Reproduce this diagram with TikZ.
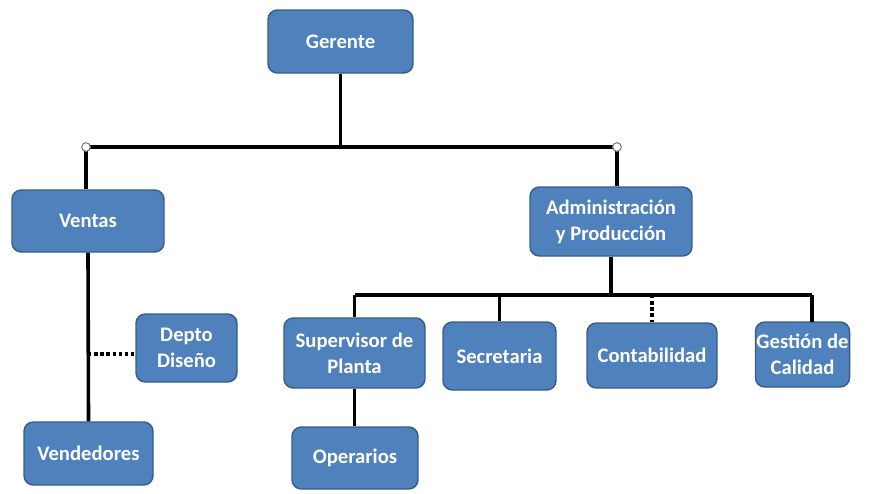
\documentclass[tikz,border=0pt]{standalone}
\usepackage{fontspec}
\setmainfont{Carlito}
\usepackage{tikz}
\usetikzlibrary{positioning}

\tikzset{
  unidad/.style={draw={rgb,255:red,56;green,93;blue,138}, line width=1.1pt,
    fill={rgb,255:red,79;green,129;blue,189}, rounded corners=7pt,
    text=white, font=\fontsize{15.5}{19.5}\selectfont\bfseries,
    align=center, inner sep=0.75pt},
  enlace/.style={line width=2.7pt, color=black},
  punteado/.style={line width=2.7pt, color=black, dash pattern=on 2.6pt off 2pt},
  nudo/.style={circle, draw={rgb,255:red,120;green,130;blue,150}, fill=white,
    line width=0.8pt, minimum size=6.5pt, inner sep=0pt}
}

\begin{document}
\begin{tikzpicture}[x=0.75pt,y=0.75pt,yscale=-1,xscale=1]
\useasboundingbox (0,0) rectangle (877,493);

% Boxes
\node [unidad, minimum width=108.75pt, minimum height=47.25pt] (gerente) at (340.5,41.5) {Gerente};
\node [unidad, minimum width=114pt, minimum height=46.5pt] (ventas) at (88,221) {Ventas};
\node [unidad, minimum width=121.5pt, minimum height=51.75pt] (admin) at (611,221.5) {Administración\\y Producción};
\node [unidad, minimum width=75.75pt, minimum height=51pt] (depto) at (186.5,348) {Depto\\Diseño};
\node [unidad, minimum width=96.75pt, minimum height=47.25pt] (vendedores) at (88.5,453.5) {Vendedores};
\node [unidad, minimum width=105.75pt, minimum height=52.5pt] (supervisor) at (354.5,353) {Supervisor de\\Planta};
\node [unidad, minimum width=84.75pt, minimum height=51pt] (secretaria) at (499.5,356) {Secretaria};
\node [unidad, minimum width=97.5pt, minimum height=48.75pt] (contabilidad) at (652,355.5) {Contabilidad};
\node [unidad, minimum width=68.25pt, minimum height=48.75pt] (gestion) at (802.5,354.5) {Gestión de\\Calidad};
\node [unidad, minimum width=94.5pt, minimum height=46.5pt] (operarios) at (355,458) {Operarios};

% Bus points
\coordinate (busL) at (86,147);
\coordinate (busR) at (617,147);
\coordinate (busA) at (612,295);
\coordinate (pieGestion) at (812,322);
\coordinate (ladoDepto) at (depto.west |- 0,354);

% Connectors
\draw [enlace] (gerente.south) -- (gerente.south |- busL);
\draw [enlace] (busL) -- (busR);
\draw [enlace] (busL) -- (busL |- ventas.north);
\draw [enlace] (busR) -- (busR |- admin.north);
\draw [enlace] (ventas.south) -- (vendedores.north);
\draw [punteado] (ventas.south |- ladoDepto) -- (ladoDepto);
\draw [enlace] (admin.south) -- (admin.south |- busA);
\draw [enlace] (supervisor.north |- busA) -- (pieGestion |- busA);
\draw [enlace] (supervisor.north |- busA) -- (supervisor.north);
\draw [enlace] (secretaria.north |- busA) -- (secretaria.north);
\draw [punteado] (contabilidad.north |- busA) -- (contabilidad.north);
\draw [enlace] (pieGestion |- busA) -- (pieGestion);
\draw [enlace] (supervisor.south) -- (supervisor.south |- operarios.north);

% Junction dots
\node [nudo] (nudoL) at (busL) {};
\node [nudo] (nudoR) at (busR) {};

\end{tikzpicture}
\end{document}
